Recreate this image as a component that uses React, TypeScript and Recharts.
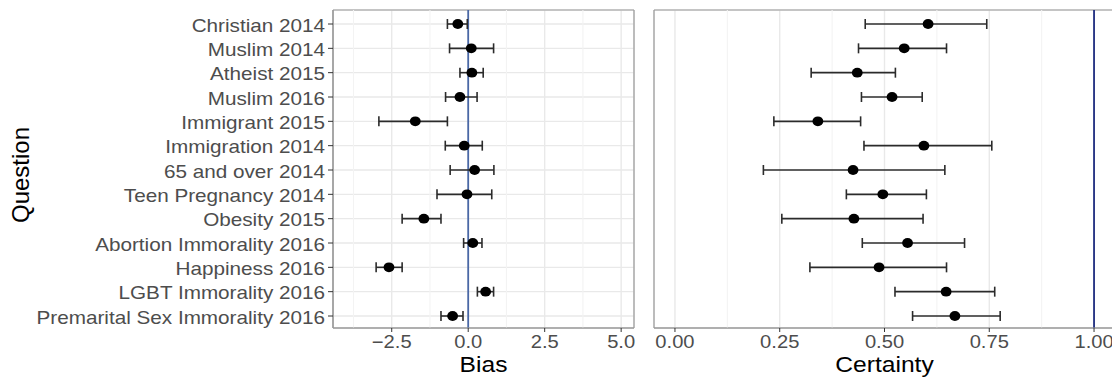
import React from 'react';
import {
    ScatterChart,
    Scatter,
    XAxis,
    YAxis,
    CartesianGrid,
    ErrorBar,
    ReferenceLine
} from 'recharts';

const questions = [
    'Christian 2014',
    'Muslim 2014',
    'Atheist 2015',
    'Muslim 2016',
    'Immigrant 2015',
    'Immigration 2014',
    '65 and over 2014',
    'Teen Pregnancy 2014',
    'Obesity 2015',
    'Abortion Immorality 2016',
    'Happiness 2016',
    'LGBT Immorality 2016',
    'Premarital Sex Immorality 2016'
];

const biasMean = [-0.34, 0.1, 0.12, -0.27, -1.73, -0.13, 0.21, -0.04, -1.45, 0.15, -2.59, 0.57, -0.51];
const biasLow = [-0.68, -0.61, -0.27, -0.74, -2.92, -0.75, -0.59, -1.02, -2.16, -0.15, -3.01, 0.3, -0.89];
const biasHigh = [-0.03, 0.83, 0.49, 0.29, -0.68, 0.46, 0.84, 0.77, -0.89, 0.45, -2.16, 0.83, -0.17];

const certMean = [0.604, 0.547, 0.435, 0.518, 0.341, 0.594, 0.425, 0.496, 0.427, 0.555, 0.487, 0.647, 0.668];
const certLow = [0.454, 0.438, 0.325, 0.445, 0.236, 0.451, 0.211, 0.409, 0.255, 0.447, 0.322, 0.525, 0.567];
const certHigh = [0.744, 0.648, 0.526, 0.59, 0.443, 0.756, 0.644, 0.6, 0.592, 0.691, 0.648, 0.763, 0.776];

const biasTicks = [-2.5, 0, 2.5, 5];
const biasMinor = [-3.75, -1.25, 1.25, 3.75];
const certTicks = [0, 0.25, 0.5, 0.75, 1];
const certMinor = [0.125, 0.375, 0.625, 0.875];

const biasDomain = [-4.42, 5.42];
const certDomain = [-0.05, 1.05];

const rows = questions.map((q, i) => ({
    question: q,
    bias: biasMean[i],
    biasErr: [biasMean[i] - biasLow[i], biasHigh[i] - biasMean[i]],
    certainty: certMean[i],
    certErr: [certMean[i] - certLow[i], certHigh[i] - certMean[i]]
}));

const FONT = '"Liberation Sans", Arial, Helvetica, sans-serif';
const STRETCH = 1.12;
const BORDER = { stroke: '#999', strokeWidth: 1.2 };

const fmt = (v: number, digits: number) => {
    const s = Math.abs(v).toFixed(digits);
    return v < 0 ? '\u2212' + s : s;
};

// panel frame: edges of the plot area
const frameRows = ({ offset }: any) => [offset.top, offset.top + offset.height];
const frameCols = ({ offset }: any) => [offset.left, offset.left + offset.width];

const CategoryTick = (props: any) => {
    const { x, y, payload } = props;
    return (
        <g transform={`translate(${x},${y}) scale(1.15,1)`}>
            <text textAnchor="end" dy="0.42em" fontSize={18} fill="#4d4d4d" fontFamily={FONT}>
                {payload.value}
            </text>
        </g>
    );
};

const makeNumTick = (digits: number) => (props: any) => {
    const { x, y, payload } = props;
    return (
        <g transform={`translate(${x},${y}) scale(${STRETCH},1)`}>
            <text textAnchor="middle" dy="0.72em" fontSize={18} fill="#4d4d4d" fontFamily={FONT}>
                {fmt(payload.value, digits)}
            </text>
        </g>
    );
};

const Dot = (props: any) => <ellipse cx={props.cx} cy={props.cy} rx={5.4} ry={4.9} fill="#000" />;

const yPadding = { top: 14, bottom: 12 };

export default function App() {
    return (
        <div
            style={{
                position: 'fixed',
                left: 0,
                top: 0,
                width: 1112,
                height: 379,
                overflow: 'hidden',
                background: '#fff'
            }}
        >
            <div style={{ position: 'absolute', left: 0, top: 0 }}>
                <ScatterChart width={645} height={379} margin={{ top: 10, right: 11, bottom: 0, left: 0 }}>
                    <CartesianGrid stroke="#e9e9e9" strokeWidth={1.4} />
                    {biasMinor.map((v) => (
                        <ReferenceLine key={v} x={v} stroke="#f3f3f3" strokeWidth={1.1} />
                    ))}
                    <CartesianGrid
                        stroke="#999"
                        strokeWidth={1.2}
                        horizontalCoordinatesGenerator={frameRows}
                        verticalCoordinatesGenerator={frameCols}
                    />
                    <XAxis
                        type="number"
                        dataKey="bias"
                        domain={biasDomain}
                        ticks={biasTicks}
                        allowDataOverflow
                        axisLine={BORDER}
                        tickSize={4}
                        tickMargin={3}
                        tickLine={{ stroke: '#333' }}
                        tick={makeNumTick(1)}
                        height={51}
                    />
                    <YAxis
                        type="category"
                        dataKey="question"
                        reversed
                        scale="point"
                        padding={yPadding}
                        width={333}
                        axisLine={BORDER}
                        tickSize={5}
                        tickMargin={3}
                        tickLine={{ stroke: '#333' }}
                        tick={<CategoryTick />}
                        interval={0}
                    />
                    <ReferenceLine x={0} stroke="#4a68a6" strokeWidth={1.8} />
                    <Scatter data={rows} fill="#000" shape={<Dot />} isAnimationActive={false}>
                        <ErrorBar dataKey="biasErr" direction="x" width={5} stroke="#2b2b2b" strokeWidth={1.6} />
                    </Scatter>
                </ScatterChart>
            </div>
            <div style={{ position: 'absolute', left: 645, top: 0 }}>
                <ScatterChart width={480} height={379} margin={{ top: 10, right: 10, bottom: 0, left: 9 }}>
                    <CartesianGrid stroke="#e9e9e9" strokeWidth={1.4} />
                    {certMinor.map((v) => (
                        <ReferenceLine key={v} x={v} stroke="#f3f3f3" strokeWidth={1.1} />
                    ))}
                    <CartesianGrid
                        stroke="#999"
                        strokeWidth={1.2}
                        horizontalCoordinatesGenerator={frameRows}
                        verticalCoordinatesGenerator={frameCols}
                    />
                    <XAxis
                        type="number"
                        dataKey="certainty"
                        domain={certDomain}
                        ticks={certTicks}
                        allowDataOverflow
                        axisLine={BORDER}
                        tickSize={4}
                        tickMargin={3}
                        tickLine={{ stroke: '#333' }}
                        tick={makeNumTick(2)}
                        height={51}
                    />
                    <YAxis
                        type="category"
                        dataKey="question"
                        reversed
                        scale="point"
                        padding={yPadding}
                        width={0}
                        tick={false}
                        tickLine={false}
                        axisLine={BORDER}
                        interval={0}
                    />
                    <ReferenceLine x={1} stroke="#1f2d80" strokeWidth={1.8} />
                    <Scatter data={rows} fill="#000" shape={<Dot />} isAnimationActive={false}>
                        <ErrorBar dataKey="certErr" direction="x" width={5} stroke="#2b2b2b" strokeWidth={1.6} />
                    </Scatter>
                </ScatterChart>
            </div>
            <svg
                width={1112}
                height={379}
                style={{ position: 'absolute', left: 0, top: 0, pointerEvents: 'none' }}
            >
                <text
                    transform="translate(29,175) rotate(-90)"
                    textAnchor="middle"
                    fontSize={24}
                    fill="#000"
                    fontFamily={FONT}
                >
                    Question
                </text>
                <g transform={`translate(483.5,372) scale(${STRETCH},1)`}>
                    <text textAnchor="middle" fontSize={22} fill="#000" fontFamily={FONT}>
                        Bias
                    </text>
                </g>
                <g transform={`translate(884.5,372) scale(${STRETCH},1)`}>
                    <text textAnchor="middle" fontSize={22} fill="#000" fontFamily={FONT}>
                        Certainty
                    </text>
                </g>
            </svg>
        </div>
    );
}
